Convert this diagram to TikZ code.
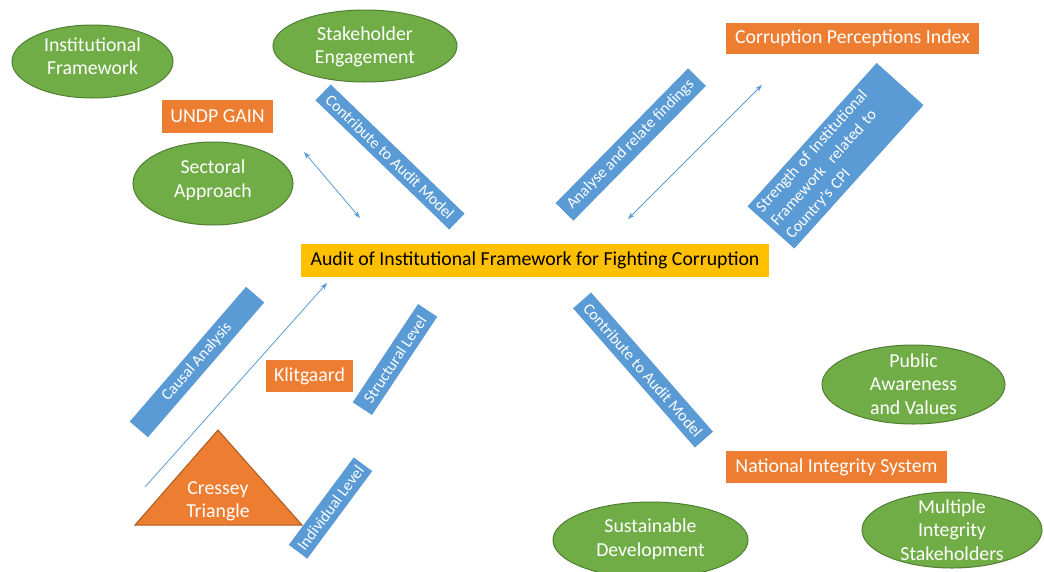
\documentclass[tikz,border=0pt]{standalone}
\usepackage{fontspec}
\setmainfont{Carlito}
\usetikzlibrary{shapes.geometric,arrows.meta}
\definecolor{cgreen}{HTML}{70AD47}
\definecolor{cgreenD}{HTML}{507E32}
\definecolor{corange}{HTML}{ED7D31}
\definecolor{corangeD}{HTML}{AE5A21}
\definecolor{cblue}{HTML}{5B9BD5}
\definecolor{cyellow}{HTML}{FFC000}
\definecolor{carrow}{HTML}{5B9BD5}
\newcommand{\mainsz}{\fontsize{19.8}{23.5}\selectfont}
\newcommand{\smallsz}{\fontsize{16}{20}\selectfont}
\begin{document}
\begin{tikzpicture}[x=1pt,y=-1pt,
  gell/.style={ellipse, fill=cgreen, draw=cgreenD, line width=1pt, inner sep=0pt},
  lbl/.style={text=white, font=\mainsz, align=center, inner sep=0pt},
  obox/.style={rectangle, fill=corange, text=white, font=\mainsz, inner sep=0pt},
  ybox/.style={rectangle, fill=cyellow, text=black, font=\mainsz, inner sep=0pt},
  blbox/.style={rectangle, fill=cblue, text=white, font=\smallsz, inner sep=0pt},
  conn/.style={draw=carrow, line width=0.8pt},
  dblhead/.style={arrows={Stealth[length=7pt,width=5pt]-Stealth[length=7pt,width=5pt]}},
  onehead/.style={arrows={-Stealth[length=7pt,width=5pt]}},
]
\useasboundingbox (0,0) rectangle (1044,571);
\fill[white] (0,0) rectangle (1044,571);
\clip (0,0) rectangle (1044,571);

% green ellipses
\node[gell, minimum width=161pt, minimum height=73pt] (instf) at (92.5,61.5) {};
\node[lbl] (instft) at (92.5,56) {Institutional\\Framework};
\node[gell, minimum width=184pt, minimum height=72pt] (stake) at (365,46) {};
\node[lbl] (staket) at (365,47) {Stakeholder\\Engagement};
\node[gell, minimum width=160pt, minimum height=83pt] (sect) at (213,183.5) {};
\node[lbl] (sectt) at (213,180) {Sectoral\\Approach};
\node[gell, minimum width=183pt, minimum height=79pt] (pub) at (913.5,384.5) {};
\node[lbl] (pubt) at (913.5,384) {Public\\Awareness\\and Values};
\node[gell, minimum width=195pt, minimum height=76pt] (sust) at (650.5,540) {};
\node[lbl] (sustt) at (650.5,539) {Sustainable\\Development};
\node[gell, minimum width=180pt, minimum height=76pt] (mult) at (952,530) {};
\node[lbl] (multt) at (952,530) {Multiple\\Integrity\\Stakeholders};

% orange boxes
\node[obox, minimum width=111pt, minimum height=33pt] (undp) at (217.5,116.5) {UNDP GAIN};
\node[obox, minimum width=253pt, minimum height=31pt] (cpi) at (852.5,38.5) {Corruption Perceptions Index};
\node[obox, minimum width=87pt, minimum height=32pt] (klit) at (309.5,376) {Klitgaard};
\node[obox, minimum width=221pt, minimum height=32pt] (nis) at (836.5,467) {National Integrity System};

% central yellow box
\node[ybox, minimum width=468pt, minimum height=33pt] (audit) at (535,260.5) {Audit of Institutional Framework for Fighting Corruption};

% Cressey triangle
\coordinate (tA) at (135,525);
\coordinate (tB) at (302,525);
\coordinate (tC) at (218,430);
\draw[fill=corange, draw=corangeD, line width=1pt] (tA) -- (tB) -- (tC) -- cycle;
\node[lbl] (cress) at (218,501.5) {Cressey\\Triangle};

% blue rotated boxes
\node[blbox, rotate=-44, minimum width=186pt, minimum height=22pt] (cam1) at (390,157) {Contribute to Audit Model};
\node[blbox, rotate=45.5, minimum width=189pt, minimum height=25pt] (arf) at (630.75,144.5) {Analyse and relate findings};
\node[blbox, rotate=48, minimum height=63pt, text width=183pt, inner xsep=5pt, align=left] (sif) at (835.5,155.75) {Strength of Institutional\\Framework~~related to\\Country’s CPI};
\node[blbox, rotate=-48.8, minimum width=185pt, minimum height=24pt] (cam2) at (643,370) {Contribute to Audit Model};
\node[blbox, rotate=49.2, minimum width=178pt, minimum height=24pt] (cau) at (197,362) {Causal Analysis};
\node[blbox, rotate=56.4, minimum width=118pt, minimum height=23pt] (strl) at (395,359.5) {Structural Level};
\node[blbox, rotate=53.4, minimum width=109pt, minimum height=23pt] (indl) at (330.5,508) {Individual Level};

% connectors
\coordinate (a1s) at (304,152);
\coordinate (a1e) at (360,218);
\draw[conn, dblhead] (a1s) -- (a1e);
\coordinate (a2s) at (762,85);
\coordinate (a2e) at (628,219);
\draw[conn, dblhead] (a2s) -- (a2e);
\coordinate (a3s) at (145,487);
\coordinate (a3e) at (327,283);
\draw[conn, onehead] (a3s) -- (a3e);
\end{tikzpicture}
\end{document}
